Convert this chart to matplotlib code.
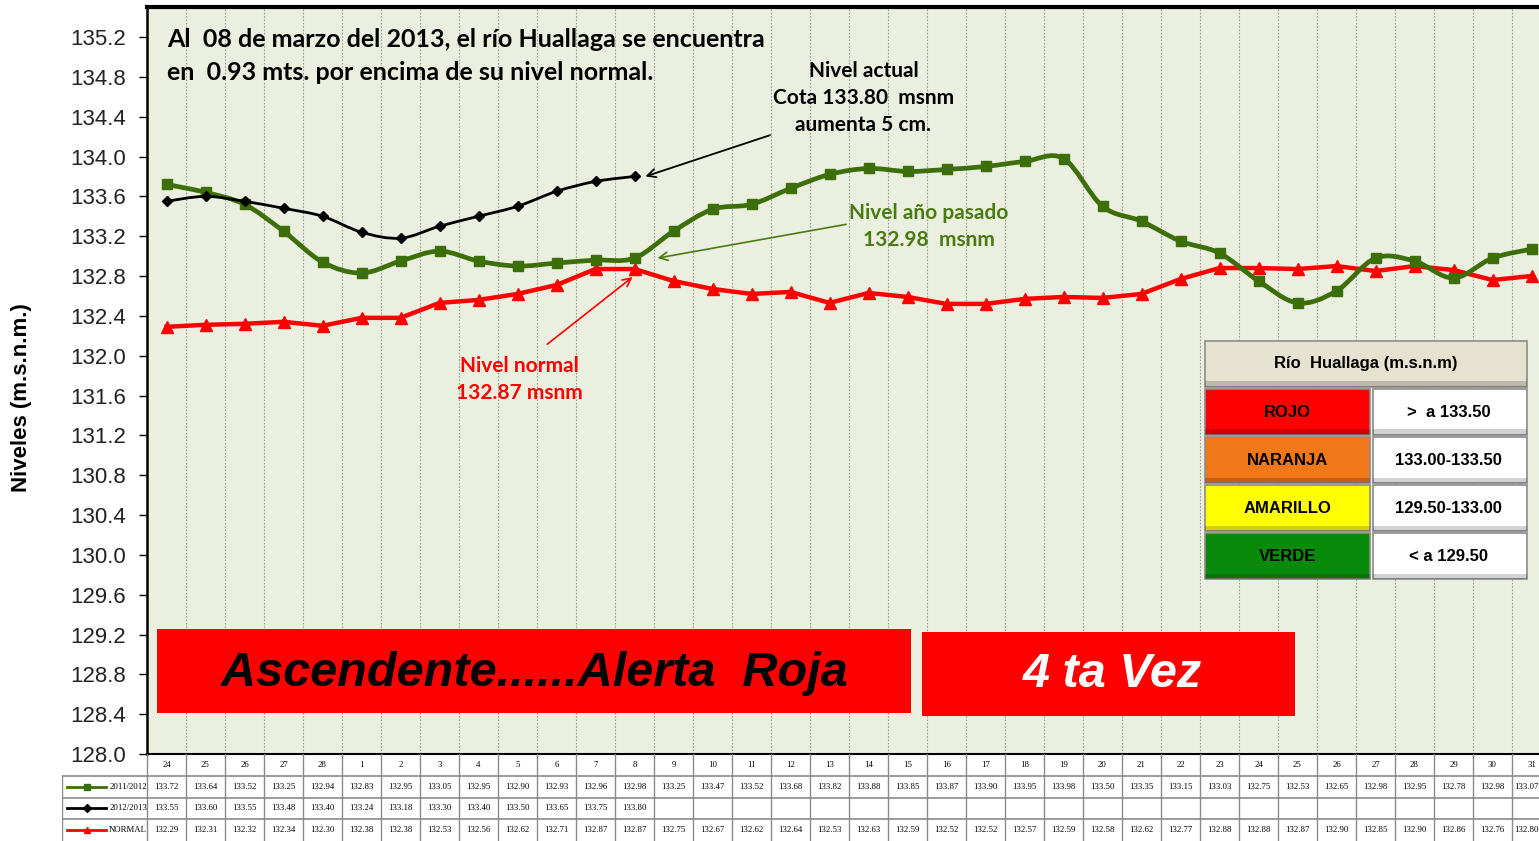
import matplotlib
matplotlib.use("Agg")
import matplotlib.pyplot as plt
import matplotlib.patches as mpatches
from matplotlib.path import Path
import numpy as np

# ── datos ──────────────────────────────────────────────────────────────
dias = ["24", "25", "26", "27", "28"] + [str(d) for d in range(1, 32)]
nivel_2011 = [133.72, 133.64, 133.52, 133.25, 132.94, 132.83, 132.95, 133.05, 132.95,
              132.90, 132.93, 132.96, 132.98, 133.25, 133.47, 133.52, 133.68, 133.82,
              133.88, 133.85, 133.87, 133.90, 133.95, 133.98, 133.50, 133.35, 133.15,
              133.03, 132.75, 132.53, 132.65, 132.98, 132.95, 132.78, 132.98, 133.07]
nivel_2012 = [133.55, 133.60, 133.55, 133.48, 133.40, 133.24, 133.18, 133.30, 133.40,
              133.50, 133.65, 133.75, 133.80]
nivel_normal = [132.29, 132.31, 132.32, 132.34, 132.30, 132.38, 132.38, 132.53, 132.56,
                132.62, 132.71, 132.87, 132.87, 132.75, 132.67, 132.62, 132.64, 132.53,
                132.63, 132.59, 132.52, 132.52, 132.57, 132.59, 132.58, 132.62, 132.77,
                132.88, 132.88, 132.87, 132.90, 132.85, 132.90, 132.86, 132.76, 132.80]
yticks = np.round(np.arange(128.0, 135.3, 0.4), 1)

alert_names = ["ROJO", "NARANJA", "AMARILLO", "VERDE"]
alert_ranges = [">  a 133.50", "133.00-133.50", "129.50-133.00", "< a 129.50"]
alert_colors = ["#FF0000", "#F07818", "#FFFF00", "#0A8A0A"]

C_GREEN = "#3C6E0A"
C_TXTGREEN = "#4A7A12"
C_RED = "#FF0000"
BG = "#EBEFDF"

W, H = 1539, 841
fig = plt.figure(figsize=(W / 100, H / 100), dpi=100)
fig.patch.set_facecolor("white")

ax_left, ax_right = 147, 1551
ax_bot = 754
ax_top = ax_bot - 7.5 * 99.58
ax = fig.add_axes([ax_left / W, 1 - ax_bot / H, (ax_right - ax_left) / W, (ax_bot - ax_top) / H])
ax.set_facecolor(BG)
ax.set_xlim(-0.5, len(dias) - 0.5)
ax.set_ylim(128.0, 135.5)


def smooth_path(xs, ys):
    # curva suavizada tipo Excel (Catmull-Rom -> Bezier)
    pts = np.column_stack([xs, ys])
    n = len(pts)
    verts = [pts[0]]
    codes = [Path.MOVETO]
    for i in range(n - 1):
        p0 = pts[max(i - 1, 0)]
        p1 = pts[i]
        p2 = pts[i + 1]
        p3 = pts[min(i + 2, n - 1)]
        c1 = p1 + (p2 - p0) / 6
        c2 = p2 - (p3 - p1) / 6
        verts += [c1, c2, p2]
        codes += [Path.CURVE4] * 3
    return Path(verts, codes)


x_all = np.arange(len(dias))
x_12 = np.arange(len(nivel_2012))

# rojo: normal (recto)
ax.plot(x_all, nivel_normal, color=C_RED, lw=3.2, marker="^", ms=8, zorder=3)
# verde: 2011/2012 suavizado
ax.add_patch(mpatches.PathPatch(smooth_path(x_all, nivel_2011), fill=False,
                                edgecolor=C_GREEN, lw=3.4, zorder=4))
ax.plot(x_all, nivel_2011, ls="none", marker="s", ms=6.5, color=C_GREEN, zorder=4)
# negro: 2012/2013 suavizado
ax.add_patch(mpatches.PathPatch(smooth_path(x_12, nivel_2012), fill=False,
                                edgecolor="black", lw=2.0, zorder=5))
ax.plot(x_12, nivel_2012, ls="none", marker="D", ms=5, color="black", zorder=5)

# ejes
ax.set_xticks(np.arange(-0.5, len(dias), 1))
ax.set_xticklabels([])
ax.tick_params(axis="x", length=0)
ax.grid(axis="x", color="#9A9A9A", ls=(0, (1.5, 1.5)), lw=0.8)
ax.set_axisbelow(True)
ax.set_yticks(yticks)
ax.set_yticklabels([f"{v:.1f}" for v in yticks], fontsize=16, family="Liberation Sans",
                   color="#222222")
ax.tick_params(axis="y", direction="out", length=6, width=1, pad=9)
ax.spines["left"].set_linewidth(1.8)
ax.spines["top"].set_linewidth(3)
ax.spines["bottom"].set_linewidth(1.5)
ax.spines["right"].set_visible(False)

fig.text(22 / W, 1 - 398 / H, "Niveles (m.s.n.m.)", rotation=90, ha="center", va="center",
         fontsize=16, fontweight="bold", family="Liberation Sans")

# texto principal
TXT = dict(family="Lato", fontweight="bold")
ax.text(0.0142, 0.957, "Al  08 de marzo del 2013, el río Huallaga se encuentra",
        transform=ax.transAxes, fontsize=18, va="center", ha="left", **TXT)
ax.text(0.0142, 0.912, "en  0.93 mts. por encima de su nivel normal.",
        transform=ax.transAxes, fontsize=18, va="center", ha="left", **TXT)

# anotaciones
i_act = len(nivel_2012) - 1
ax.annotate("Nivel actual\nCota 133.80  msnm\naumenta 5 cm.",
            xy=(i_act + 0.28, nivel_2012[i_act]), xytext=(17.87, 134.59),
            ha="center", va="center", fontsize=15, linespacing=1.45, **TXT,
            arrowprops=dict(arrowstyle="->", color="black", lw=1.3,
                            shrinkA=0, shrinkB=0, relpos=(0.05, 0.05)))
ax.annotate("Nivel año pasado\n132.98  msnm",
            xy=(i_act + 0.59, nivel_2011[i_act]), xytext=(19.54, 133.30),
            ha="center", va="center", fontsize=15, linespacing=1.45, color=C_TXTGREEN, **TXT,
            arrowprops=dict(arrowstyle="->", color=C_TXTGREEN, lw=1.2,
                            shrinkA=0, shrinkB=0, relpos=(0.0, 0.55)))
ax.annotate("Nivel normal\n132.87 msnm",
            xy=(i_act - 0.05, nivel_normal[i_act] - 0.08), xytext=(9.05, 131.76),
            ha="center", va="center", fontsize=15, linespacing=1.45, color=C_RED, **TXT,
            arrowprops=dict(arrowstyle="->", color=C_RED, lw=1.2,
                            shrinkA=0, shrinkB=0, relpos=(0.72, 1.25)))

# cajas de alerta
ax.add_patch(mpatches.Rectangle((0.0071, 0.0549), 0.5371, 0.1125, transform=ax.transAxes,
                                facecolor="#FF0000", edgecolor="none", zorder=6))
ax.text(0.2756, 0.108, "Ascendente......Alerta  Roja", transform=ax.transAxes,
        fontsize=35, fontweight="bold", fontstyle="italic", family="Liberation Sans",
        ha="center", va="center", color="black", zorder=7)
ax.add_patch(mpatches.Rectangle((0.552, 0.0509), 0.2657, 0.1125, transform=ax.transAxes,
                                facecolor="#FF0000", edgecolor="none", zorder=6))
ax.text(0.6875, 0.107, "4 ta Vez", transform=ax.transAxes,
        fontsize=35, fontweight="bold", fontstyle="italic", family="Liberation Sans",
        ha="center", va="center", color="white", zorder=7)

# tabla de alertas
lx0, lxm, lx1 = 0.7536, 0.8711, 0.9829
hdr_top, hdr_h, row_h, gap = 0.553, 0.0616, 0.0616, 0.0027


def bevel_box(x, y, w, h, fc):
    ax.add_patch(mpatches.Rectangle((x, y), w, h, transform=ax.transAxes, facecolor=fc,
                                    edgecolor="#8C8C8C", lw=1.2, zorder=6))
    ax.add_patch(mpatches.Rectangle((x, y), w, h * 0.12, transform=ax.transAxes,
                                    facecolor="black", alpha=0.18, edgecolor="none", zorder=6))


bevel_box(lx0, hdr_top - hdr_h, lx1 - lx0, hdr_h, "#E6E2D0")
ax.text((lx0 + lx1) / 2, hdr_top - hdr_h / 2, "Río  Huallaga (m.s.n.m)", transform=ax.transAxes,
        ha="center", va="center", fontsize=12, fontweight="bold", family="Liberation Sans",
        zorder=7)
for k, (nm, rg, col) in enumerate(zip(alert_names, alert_ranges, alert_colors)):
    top = hdr_top - hdr_h - gap - k * (row_h + gap)
    bevel_box(lx0, top - row_h, lxm - lx0, row_h, col)
    bevel_box(lxm + 0.002, top - row_h, lx1 - lxm - 0.002, row_h, "white")
    ax.text((lx0 + lxm) / 2, top - row_h / 2, nm, transform=ax.transAxes, ha="center",
            va="center", fontsize=12, fontweight="bold", family="Liberation Sans", zorder=7)
    ax.text((lxm + lx1) / 2, top - row_h / 2, rg, transform=ax.transAxes, ha="center",
            va="center", fontsize=12, fontweight="bold", family="Liberation Sans", zorder=7)

# ── tabla de datos ─────────────────────────────────────────────────────
lab_w = 85 / 39
axt = fig.add_axes([62 / W, 0, (ax_right - 62) / W, 87 / H])
axt.set_xlim(-0.5 - lab_w, len(dias) - 0.5)
axt.set_ylim(4, 0)
axt.axis("off")
GC = "#8A8A8A"
for k in range(len(dias) + 1):
    axt.plot([k - 0.5, k - 0.5], [0, 4], color=GC, lw=1)
axt.plot([-0.5 - lab_w] * 2, [1, 4], color=GC, lw=1)
for r in [1, 2, 3]:
    axt.plot([-0.5 - lab_w, len(dias) - 0.5], [r, r], color=GC, lw=1.2)

TF = dict(family="Liberation Serif", fontsize=6.3, va="center")
last = len(dias) - 1
for i, d in enumerate(dias):
    axt.text(i, 0.5, d, ha="center", **TF)
series = [("2011/2012", nivel_2011, C_GREEN, "s"),
          ("2012/2013", nivel_2012, "black", "D"),
          ("NORMAL", nivel_normal, C_RED, "^")]
for r, (lab, vals, col, mk) in enumerate(series, start=1):
    for i, v in enumerate(vals):
        if i == last:
            # última columna recortada por el borde: alinear a la derecha
            axt.text(i + 0.18, r + 0.5, f"{v:.2f}", ha="right", **TF)
        else:
            axt.text(i, r + 0.5, f"{v:.2f}", ha="center", **TF)
    axt.plot([-2.54, -1.54], [r + 0.5, r + 0.5], color=col, lw=2)
    axt.plot([-2.04], [r + 0.5], marker=mk, color=col, ms=4.5)
    axt.text(-1.47, r + 0.5, lab, ha="left", **TF)

fig.savefig("out.png", dpi=100)
